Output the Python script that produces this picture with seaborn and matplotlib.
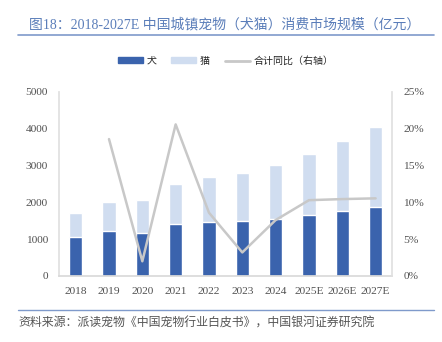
import numpy as np
import pandas as pd
import matplotlib
matplotlib.use("Agg")
import matplotlib.pyplot as plt
import seaborn as sns
from matplotlib.patches import Patch
from matplotlib.lines import Line2D

years = ["2018", "2019", "2020", "2021", "2022", "2023", "2024", "2025E", "2026E", "2027E"]
dog = [1050, 1230, 1180, 1415, 1480, 1490, 1550, 1660, 1770, 1885]
total = [1705, 2020, 2065, 2490, 2700, 2790, 3005, 3315, 3660, 4055]
yoy = [np.nan, 18.6, 2.0, 20.6, 8.6, 3.2, 7.6, 10.3, 10.45, 10.55]

left_ticks = [0, 1000, 2000, 3000, 4000, 5000]
right_ticks = [0, 5, 10, 15, 20, 25]

title = "图18：2018-2027E 中国城镇宠物（犬猫）消费市场规模（亿元）"
source = "资料来源：派读宠物《中国宠物行业白皮书》，中国银河证券研究院"
legend_labels = ["犬", "猫", "合计同比（右轴）"]

c_dog = "#3A63AD"
c_cat = "#D0DDF0"
c_line = "#C8C8C8"
c_title = "#5A7DB9"

sns.set_theme(style="white")
plt.rcParams["font.family"] = ["Liberation Serif", "Noto Sans CJK SC", "DejaVu Sans"]

fig = plt.figure(figsize=(4.42, 3.42), dpi=100)
ax = fig.add_axes([0.1335, 0.193, 0.754, 0.538])

df = pd.DataFrame({"year": years, "dog": dog, "total": total})
sns.barplot(data=df, x="year", y="total", color=c_cat, width=0.4, ax=ax, saturation=1)
sns.barplot(data=df, x="year", y="dog", color=c_dog, width=0.4, ax=ax, saturation=1)

ax.set_ylim(0, 5000)
ax.set_yticks(left_ticks)
ax.set_yticklabels([str(t) for t in left_ticks])
ax.set_xlabel("")
ax.set_ylabel("")
ax.set_xlim(-0.5, len(years) - 0.5)

ax2 = ax.twinx()
sns.lineplot(x=np.arange(len(years)), y=yoy, color=c_line, linewidth=1.8, ax=ax2)
ax2.set_ylim(0, 25)
ax2.set_yticks(right_ticks)
ax2.set_yticklabels([f"{t}%" for t in right_ticks])

for a in (ax, ax2):
    a.tick_params(axis="both", length=0, labelsize=8.2, colors="#505050", pad=8)
    for s in a.spines.values():
        s.set_visible(False)
ax.spines["bottom"].set_visible(True)
ax.spines["bottom"].set_color("#D9D9D9")
ax.spines["left"].set_visible(True)
ax.spines["left"].set_color("#E0E0E0")
ax2.spines["right"].set_visible(True)
ax2.spines["right"].set_color("#E0E0E0")
ax.tick_params(axis="x", pad=8)

fig.text(0.066, 0.928, title, fontsize=10, color=c_title,
         family=["Liberation Serif", "Noto Sans CJK SC"], va="center", ha="left")
fig.add_artist(Line2D([0.04, 0.982], [0.898, 0.898], color="#7F9ACB", linewidth=1.2))
fig.add_artist(Line2D([0.04, 0.982], [0.094, 0.094], color="#7F9ACB", linewidth=1.0))
fig.text(0.042, 0.056, source, fontsize=8.6, color="#555555",
         family=["Noto Sans CJK SC"], va="center", ha="left")

handles = [Patch(color=c_dog), Patch(color=c_cat),
           Line2D([0], [0], color=c_line, linewidth=2)]
fig.legend(handles, legend_labels, loc="center", bbox_to_anchor=(0.51, 0.822), ncol=3,
           frameon=False, handlelength=2.5, handleheight=0.55,
           columnspacing=1.5, handletextpad=0.35,
           prop={"family": ["Noto Sans CJK SC"], "size": 7.2})

fig.savefig("out.png", dpi=100)
